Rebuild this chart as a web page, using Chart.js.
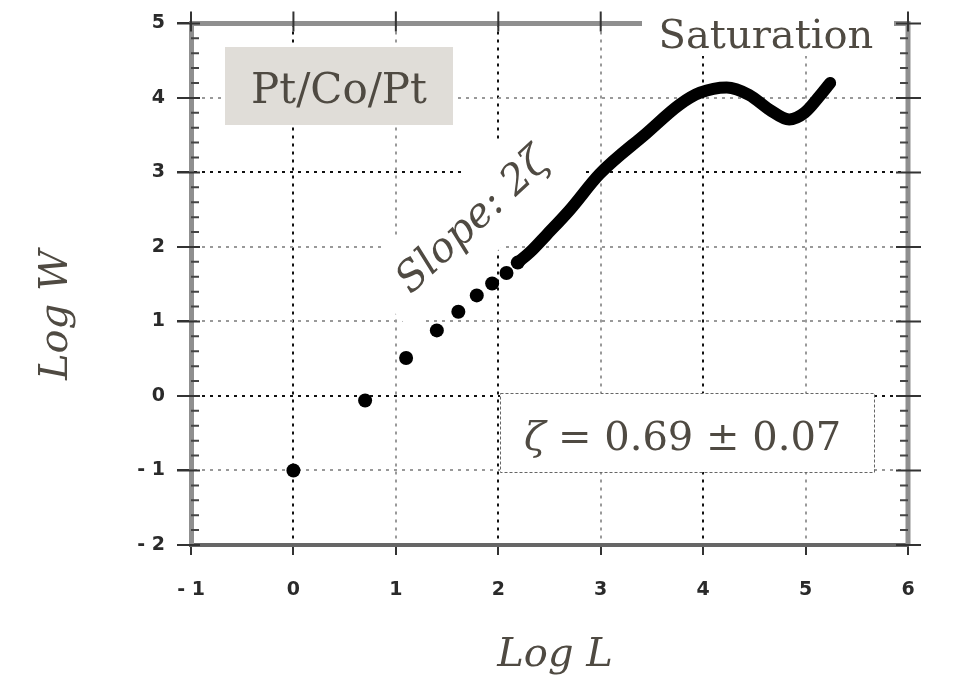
<!DOCTYPE html>
<html>
<head>
<meta charset="utf-8">
<script src="https://cdn.jsdelivr.net/npm/chart.js@4.4.0/dist/chart.umd.min.js"></script>
<style>
  html, body { margin: 0; padding: 0; background: #fff; }
  #wrap { width: 953px; height: 677px; position: relative; }
</style>
</head>
<body>
<div id="wrap"><canvas id="roughChart"></canvas></div>
<script>
// roughness W vs length L (log-log)
const dotL = [0.0, 0.70, 1.10, 1.40, 1.61, 1.79, 1.94, 2.08, 2.19];
const dotW = [-1.0, -0.06, 0.51, 0.88, 1.13, 1.35, 1.51, 1.65, 1.79];
const curveL = [2.19, 2.31, 2.47, 2.70, 2.99, 3.45, 3.77, 3.97, 4.23, 4.45, 4.65, 4.84, 4.99, 5.14, 5.24];
const curveW = [1.79, 1.93, 2.16, 2.50, 2.98, 3.53, 3.91, 4.07, 4.14, 4.04, 3.84, 3.71, 3.80, 4.03, 4.20];

const xTicks = [-1, 0, 1, 2, 3, 4, 5, 6];
const yTicks = [-2, -1, 0, 1, 2, 3, 4, 5];
// grid lines that look washed out in the scan
const xLight = [1, 3, 5];
const yLight = [4, 2, 1, -1];

const textCol = '#4f4a42';
const serif = '"DejaVu Serif", "Liberation Serif", serif';

function toPts(xs, ys) {
    return xs.map((v, i) => ({x: v, y: ys[i]}));
}

function tickText(v) {
    return v < 0 ? '- ' + Math.abs(v) : String(v);
}

const frame = {
    id: 'frame',
    beforeDatasetsDraw(chart) {
        const ctx = chart.ctx;
        const a = chart.chartArea;
        const x = chart.scales.x, y = chart.scales.y;
        ctx.save();

        // top and right axis lines
        ctx.strokeStyle = '#8f8f8f';
        ctx.lineWidth = 5;
        ctx.beginPath();
        ctx.moveTo(a.left, a.top);
        ctx.lineTo(a.right, a.top);
        ctx.lineTo(a.right, a.bottom);
        ctx.stroke();

        // major ticks on top and right
        ctx.strokeStyle = '#333';
        ctx.lineWidth = 2;
        ctx.beginPath();
        xTicks.forEach(v => {
            const px = x.getPixelForValue(v);
            ctx.moveTo(px, a.top - 12);
            ctx.lineTo(px, a.top + 8);
        });
        yTicks.forEach(v => {
            const py = y.getPixelForValue(v);
            ctx.moveTo(a.left - 14, py);
            ctx.lineTo(a.left + 9, py);
            ctx.moveTo(a.right - 12, py);
            ctx.lineTo(a.right + 13, py);
        });
        ctx.stroke();

        // minor ticks on left and right, every 0.2
        ctx.strokeStyle = '#444';
        ctx.lineWidth = 2;
        ctx.beginPath();
        for (let v = yTicks[0]; v < yTicks[yTicks.length - 1]; v++) {
            for (let k = 1; k < 5; k++) {
                const py = y.getPixelForValue(v + k * 0.2);
                ctx.moveTo(a.left, py);
                ctx.lineTo(a.left + 8, py);
                ctx.moveTo(a.right - 8, py);
                ctx.lineTo(a.right, py);
            }
        }
        ctx.stroke();

        // Pt/Co/Pt label box
        ctx.fillStyle = '#e0ddd8';
        ctx.fillRect(225, 47, 228, 78);
        ctx.fillStyle = textCol;
        ctx.font = '42px ' + serif;
        ctx.textAlign = 'center';
        ctx.textBaseline = 'alphabetic';
        ctx.fillText('Pt/Co/Pt', 339, 103);

        // Saturation label, blanks the top axis line
        ctx.fillStyle = '#fff';
        ctx.fillRect(642, 0, 252, 56);
        ctx.fillStyle = textCol;
        ctx.font = '40px ' + serif;
        ctx.fillText('Saturation', 766, 48);

        // zeta value box
        ctx.fillStyle = '#fff';
        ctx.fillRect(500, 393, 374, 79);
        ctx.strokeStyle = '#666';
        ctx.lineWidth = 1;
        ctx.setLineDash([3, 2]);
        ctx.strokeRect(500.5, 393.5, 374, 79);
        ctx.setLineDash([]);
        ctx.fillStyle = textCol;
        ctx.font = 'italic 40px ' + serif;
        ctx.textAlign = 'left';
        ctx.fillText('\u03B6', 524, 450);
        ctx.font = '40px ' + serif;
        ctx.fillText('= 0.69 \u00B1 0.07', 558, 450);

        // rotated slope label
        ctx.save();
        ctx.translate(472, 220);
        ctx.rotate(-43 * Math.PI / 180);
        ctx.fillStyle = '#fff';
        ctx.fillRect(-120, -40, 240, 80);
        ctx.fillStyle = textCol;
        ctx.font = 'italic 41px ' + serif;
        ctx.textAlign = 'center';
        ctx.fillText('Slope: 2\u03B6', 0, 13);
        ctx.restore();

        // axis titles
        ctx.fillStyle = textCol;
        ctx.font = 'italic 40px ' + serif;
        ctx.textAlign = 'center';
        ctx.fillText('Log L', 555, 666);
        ctx.save();
        ctx.translate(67, 315);
        ctx.rotate(-Math.PI / 2);
        ctx.fillText('Log W', 0, 0);
        ctx.restore();

        ctx.restore();
    }
};

const tickFont = { family: '"DejaVu Sans", sans-serif', size: 19, weight: 'bold' };

const roughChart = new Chart(document.getElementById('roughChart'), {
    type: 'scatter',
    data: {
        datasets: [{
            label: 'points',
            data: toPts(dotL, dotW),
            pointRadius: 7,
            pointBackgroundColor: '#000',
            pointBorderWidth: 0,
            showLine: false
        }, {
            label: 'curve',
            data: toPts(curveL, curveW),
            showLine: true,
            borderColor: '#000',
            borderWidth: 12,
            borderCapStyle: 'round',
            borderJoinStyle: 'round',
            cubicInterpolationMode: 'monotone',
            pointRadius: 0
        }]
    },
    options: {
        responsive: true,
        maintainAspectRatio: false,
        animation: false,
        layout: { padding: { left: 0, right: 45, top: 20, bottom: 0 } },
        plugins: { legend: { display: false }, tooltip: { enabled: false } },
        scales: {
            x: {
                type: 'linear',
                min: xTicks[0],
                max: xTicks[xTicks.length - 1],
                afterFit: s => { s.height = 132; },
                afterBuildTicks: s => { s.ticks = xTicks.map(v => ({value: v})); },
                ticks: {
                    callback: tickText,
                    color: '#2a2a2a',
                    font: tickFont,
                    padding: 24,
                    maxRotation: 0
                },
                grid: {
                    color: c => xLight.includes(c.tick && c.tick.value) ? '#999' : '#111',
                    lineWidth: 2,
                    tickLength: 10,
                    tickColor: '#333',
                    tickWidth: 2
                },
                border: { display: true, color: '#666', width: 4, dash: [3, 5] }
            },
            y: {
                type: 'linear',
                min: yTicks[0],
                max: yTicks[yTicks.length - 1],
                afterFit: s => { s.width = 191; },
                afterBuildTicks: s => { s.ticks = yTicks.map(v => ({value: v})); },
                ticks: {
                    callback: tickText,
                    color: '#2a2a2a',
                    font: tickFont,
                    padding: 12
                },
                grid: {
                    color: c => yLight.includes(c.tick && c.tick.value) ? '#999' : '#111',
                    lineWidth: 2,
                    tickLength: 14,
                    tickColor: '#333',
                    tickWidth: 2
                },
                border: { display: true, color: '#8f8f8f', width: 5, dash: [3, 5] }
            }
        }
    },
    plugins: [frame]
});
</script>
</body>
</html>
